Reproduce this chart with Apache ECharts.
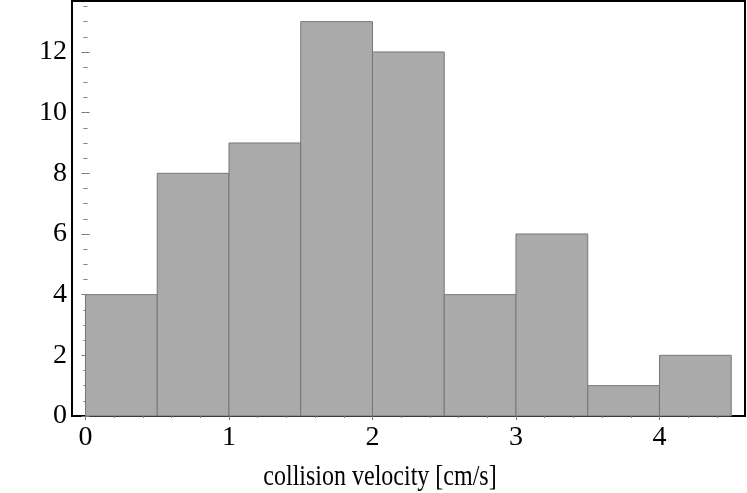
<!DOCTYPE html>
<html>
<head>
<meta charset="utf-8">
<script src="https://cdn.jsdelivr.net/npm/echarts@6/dist/echarts.min.js"></script>
<style>html,body{margin:0;padding:0;background:#fff}#c{width:747px;height:493px}</style>
</head>
<body>
<div id="c"></div>
<script>
// Histogram data
var binStarts = [0, 0.5, 1, 1.5, 2, 2.5, 3, 3.5, 4];
var binWidth = 0.5;
var counts = [4, 8, 9, 13, 12, 4, 6, 1, 2];
var xTicks = [0, 1, 2, 3, 4];
var xMinorTicks = [0.2, 0.4, 0.6, 0.8, 1.2, 1.4, 1.6, 1.8, 2.2, 2.4, 2.6, 2.8, 3.2, 3.4, 3.6, 3.8, 4.2, 4.4];
var yTicks = [0, 2, 4, 6, 8, 10, 12];
var yMinorTicks = [0.5, 1, 1.5, 2.5, 3, 3.5, 4.5, 5, 5.5, 6.5, 7, 7.5, 8.5, 9, 9.5, 10.5, 11, 11.5, 12.5, 13, 13.5];
var xLabel = 'collision velocity [cm/s]';

var FONT = '"Liberation Serif", "Times New Roman", serif';
var xMin = -0.094, xMax = 4.596, yMin = 0, yMax = 13.68;

function axisX(pos, values, len, showLabel) {
  return {
    type: 'value', position: pos, min: xMin, max: xMax,
    axisLine: { show: false },
    splitLine: { show: false },
    axisTick: { show: true, inside: true, length: len, customValues: values, lineStyle: { color: '#777', width: 1 } },
    axisLabel: { show: showLabel, customValues: values, color: '#000', fontFamily: FONT, fontSize: 28, margin: 8 }
  };
}
function axisY(pos, values, len, showLabel) {
  return {
    type: 'value', position: pos, min: yMin, max: yMax,
    axisLine: { show: false },
    splitLine: { show: false },
    axisTick: { show: true, inside: true, length: len, customValues: values, lineStyle: { color: '#777', width: 1 } },
    axisLabel: { show: showLabel, customValues: values, color: '#000', fontFamily: FONT, fontSize: 28, margin: 5 }
  };
}

var data = binStarts.map(function (s, i) { return [s, s + binWidth, counts[i]]; });

var chart = echarts.init(document.getElementById('c'), null, { renderer: 'canvas' });
chart.setOption({
  animation: false,
  graphic: [{
    type: 'text', x: 380, y: 477, scaleY: 1.25,
    style: {
      text: xLabel, x: 0, y: 0, align: 'center', verticalAlign: 'middle',
      font: '24px ' + FONT, fill: '#000'
    }
  }],
  grid: { left: 72, right: 2, top: 1, bottom: 77, show: true, borderColor: '#000', borderWidth: 2, backgroundColor: 'transparent' },
  xAxis: [
    axisX('bottom', xTicks, 4, true),
    axisX('bottom', xMinorTicks, 2, false),
    axisX('top', xTicks, 4, false),
    axisX('top', xMinorTicks, 2, false)
  ],
  yAxis: [
    axisY('left', yTicks, 4, true),
    axisY('left', yMinorTicks, 2, false),
    axisY('right', yTicks, 4, false),
    axisY('right', yMinorTicks, 2, false)
  ],
  series: [{
    type: 'custom',
    xAxisIndex: 0, yAxisIndex: 0,
    data: data,
    encode: { x: [0, 1], y: 2 },
    renderItem: function (params, api) {
      var p0 = api.coord([api.value(0), api.value(2)]);
      var p1 = api.coord([api.value(1), 0]);
      return {
        type: 'rect',
        shape: { x: p0[0], y: p0[1], width: p1[0] - p0[0], height: p1[1] - p0[1] },
        style: { fill: '#aaaaaa', stroke: '#777777', lineWidth: 1 }
      };
    }
  }]
});
</script>
</body>
</html>
